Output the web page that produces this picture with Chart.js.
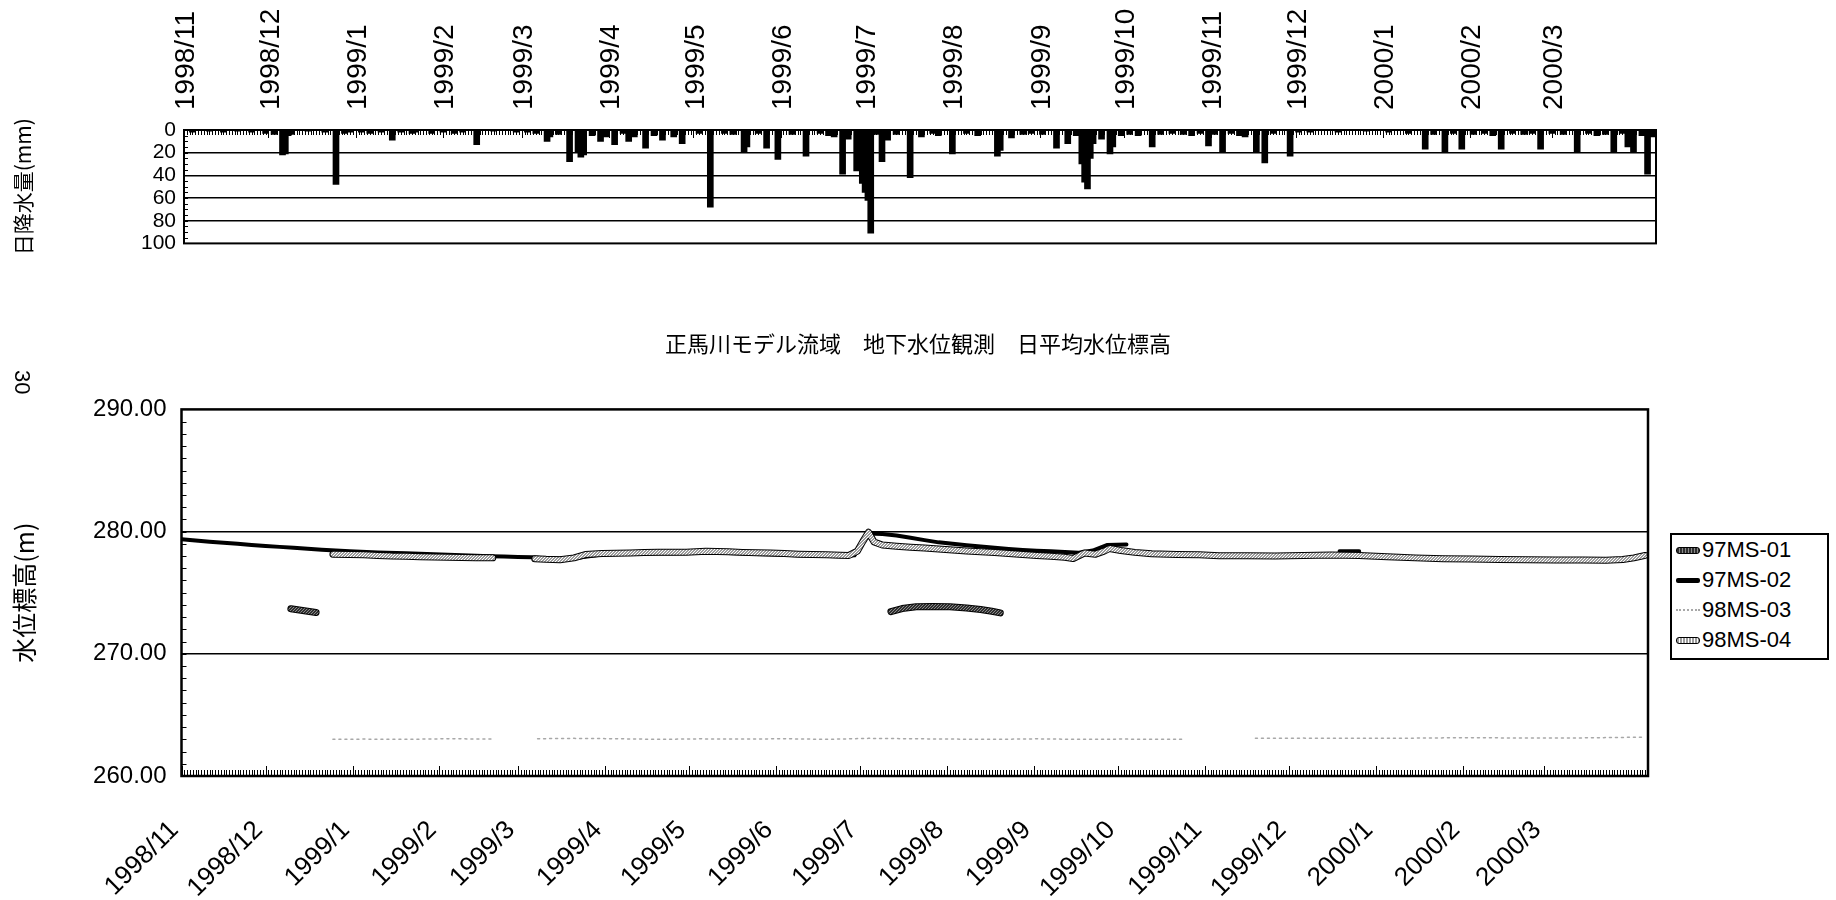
<!DOCTYPE html>
<html lang="ja">
<head>
<meta charset="utf-8">
<title>正馬川モデル流域 地下水位観測 日平均水位標高</title>
<script src="https://cdn.jsdelivr.net/npm/chart.js@4.4.1/dist/chart.umd.min.js"></script>
<style>
  html, body { margin: 0; padding: 0; background: #fff; }
  body { position: relative; width: 1836px; height: 900px; overflow: hidden; font-family: "Liberation Sans", Arial, sans-serif; color: #000; }
  #rainBox  { position: absolute; left: 0; top: 0;     width: 1836px; height: 264px; }
  #levelBox { position: absolute; left: 0; top: 300px; width: 1836px; height: 600px; }
  #pageNo { position: absolute; left: 33px; top: 370px; font-size: 22px; line-height: 22px; transform-origin: 0 0; transform: rotate(90deg); }
  #legend { position: absolute; left: 1670px; top: 533px; width: 159px; height: 127px; border: 2px solid #000; box-sizing: border-box; background: #fff; }
  #legend .row { position: absolute; left: 0; height: 30px; display: flex; align-items: center; font-size: 22px; }
  #legend .swatch { width: 24px; margin: 0 2px 0 4px; box-sizing: border-box; }
</style>
</head>
<body>
<div id="rainBox"><canvas id="rainCanvas" width="1836" height="264"></canvas></div>
<div id="levelBox"><canvas id="levelCanvas" width="1836" height="600"></canvas></div>
<div id="pageNo">30</div>
<div id="legend"></div>
<script>
// ---- time axis: days counted from 1998/11/1 ----
const monthLabels = ['1998/11','1998/12','1999/1','1999/2','1999/3','1999/4','1999/5','1999/6','1999/7',
                     '1999/8','1999/9','1999/10','1999/11','1999/12','2000/1','2000/2','2000/3'];
const TOTAL_DAYS = 523;

// ---- daily rainfall (mm), listed for rain days only ----
const rainDay = [3,9,14,19,24,29,32,35,36,37,38,44,50,54,57,59,63,66,70,74,77,81,82,88,92,96,99,104,110,118,122,125,
  129,130,133,137,140,141,142,145,148,150,153,156,158,160,164,167,170,174,177,183,187,192,195,199,200,204,207,211,
  216,221,226,229,231,234,236,239,241,242,243,244,246,248,250,253,258,262,266,268,273,278,282,289,290,294,298,301,
  305,310,314,317,319,320,321,322,323,326,329,330,333,336,339,344,347,351,355,358,361,364,366,369,372,375,377,381,
  384,387,393,396,400,410,420,428,435,441,444,448,451,454,458,462,465,468,472,476,479,482,486,490,495,499,502,505,
  508,511,513,515,518,520,522];
const rainMm = [2,1,2,1,2,3,4,22,21,5,4,1,2,48,3,2,2,3,2,9,2,3,2,3,2,3,2,13,1,2,2,3,
  10,6,4,28,19,24,22,5,10,6,13,3,10,6,16,5,9,6,12,3,68,3,4,19,15,3,16,26,
  4,23,3,5,6,39,8,36,47,55,62,91,4,28,9,4,42,6,3,5,21,3,5,23,18,7,4,3,
  4,16,12,5,30,46,52,25,12,8,21,15,5,4,5,15,4,3,4,5,3,14,4,20,3,5,6,19,
  29,3,23,2,2,2,1,2,3,17,4,19,3,17,4,3,5,17,3,4,3,17,3,4,19,3,5,4,
  20,3,15,20,5,39,6];

// ---- daily mean groundwater level (m), null = no record ----
const seriesNames = ['97MS-01', '97MS-02', '98MS-03', '98MS-04'];

const ms01Day = [39,42,45,48,150,253,257,262,268,274,280,285,289,292];
const ms01Lvl = [273.68,273.58,273.48,273.38,null,273.45,273.7,273.85,273.88,273.85,273.75,273.62,273.48,273.35];

const ms02Day = [0,5,10,15,20,25,30,35,40,45,50,55,60,70,80,90,100,110,115,120,125,130,140,150,160,175,190,205,220,235,
  240,245,250,255,260,265,270,275,280,285,290,295,300,305,310,315,320,325,330,337,380,413,420];
const ms02Lvl = [279.38,279.27,279.17,279.08,279.0,278.91,278.83,278.75,278.67,278.6,278.52,278.45,278.39,278.3,278.22,
  278.14,278.06,277.99,277.96,277.93,277.9,277.8,277.82,278.12,278.2,278.22,278.28,278.16,278.06,277.98,
  278.06,279.85,279.8,279.68,279.5,279.3,279.12,279.0,278.88,278.78,278.68,278.58,278.5,278.44,278.39,278.33,
  278.27,278.45,278.9,278.95,null,278.4,278.4];

const ms03Day = [54,65,80,95,111,118,127,140,155,170,185,200,215,230,245,260,275,290,305,320,335,357,370,383,400,420,440,460,480,500,522];
const ms03Lvl = [263.0,263.02,263.0,263.05,263.02,null,263.05,263.08,263.05,263.0,263.04,263.02,263.05,263.0,263.08,263.05,
  263.02,263.0,263.04,263.0,263.02,263.0,null,263.08,263.1,263.08,263.1,263.14,263.1,263.12,263.18];

const ms04Day = [54,60,65,70,75,80,85,90,95,100,105,111,118,126,130,135,140,144,150,155,160,165,170,175,180,187,195,200,
  205,210,215,220,225,230,235,238,241,243,245,247,250,255,260,265,270,275,280,285,290,295,300,305,310,315,318,322,
  326,329,331,335,340,346,355,363,370,380,390,400,410,420,430,440,450,460,470,480,490,500,508,514,518,522];
const ms04Lvl = [278.15,278.12,278.1,278.05,278.0,277.98,277.95,277.92,277.9,277.88,277.86,277.85,null,277.78,277.73,
  277.7,277.85,278.12,278.2,278.22,278.25,278.28,278.3,278.3,278.32,278.4,278.35,278.3,278.27,278.25,278.2,278.15,
  278.12,278.1,278.06,278.05,278.4,279.2,279.95,279.15,278.9,278.8,278.72,278.65,278.58,278.5,278.42,278.35,278.28,
  278.2,278.12,278.05,277.98,277.9,277.8,278.25,278.15,278.4,278.62,278.45,278.3,278.18,278.12,278.1,278.03,278.02,
  278.0,278.05,278.08,278.05,277.95,277.85,277.78,277.75,277.72,277.7,277.68,277.68,277.66,277.72,277.85,278.05];

const rainAxisTitle = '日降水量(mm)';
const levelAxisTitle = '水位標高(m)';
const levelTitle = '正馬川モデル流域　地下水位観測　日平均水位標高';

// ---- helpers ----
const START = Date.UTC(1998, 10, 1);
const monthDays = monthLabels.map(s => {
  const [yy, mm] = s.split('/').map(Number);
  return Math.round((Date.UTC(yy, mm - 1, 1) - START) / 86400000);
});
const pts = (days, vals) => days.map((d, i) => ({ x: d, y: vals[i] }));

function stipple(base, speck) {
  const c = document.createElement('canvas');
  c.width = 3; c.height = 3;
  const g = c.getContext('2d');
  g.fillStyle = base; g.fillRect(0, 0, 3, 3);
  g.fillStyle = speck; g.fillRect(0, 0, 1, 1); g.fillRect(2, 1, 1, 1); g.fillRect(1, 2, 1, 1);
  return g.createPattern(c, 'repeat');
}

// plot frame, inside tick marks on both axes
const framePlugin = {
  id: 'frame',
  afterDatasetsDraw(chart, args, o) {
    const { ctx, chartArea: a, scales: { x, y } } = chart;
    ctx.save();
    ctx.strokeStyle = '#000';
    ctx.lineWidth = 1;
    ctx.beginPath();
    for (let v = y.min; v <= y.max + 1e-9; v += o.yMinor) {
      const py = Math.round(y.getPixelForValue(v)) + 0.5;
      ctx.moveTo(a.left, py); ctx.lineTo(a.left + o.yTickLen, py);
    }
    const edge = o.timeEdge === 'top' ? a.top : a.bottom;
    const dir = o.timeEdge === 'top' ? 1 : -1;
    for (let d = 0; d <= TOTAL_DAYS; d++) {
      const px = Math.round(x.getPixelForValue(d)) + 0.5;
      const len = monthDays.includes(d) ? o.monthTickLen : o.dayTickLen;
      ctx.moveTo(px, edge); ctx.lineTo(px, edge + dir * len);
    }
    ctx.stroke();
    ctx.lineWidth = o.frameWidth;
    ctx.strokeRect(a.left, a.top, a.width, a.height);
    ctx.restore();
  }
};

// dark edge under the textured well lines
const outlinePlugin = {
  id: 'outline',
  beforeDatasetDraw(chart, args) {
    const ds = chart.data.datasets[args.index];
    if (!ds.outlineColor) return;
    const { ctx, chartArea: a } = chart;
    ctx.save();
    ctx.beginPath(); ctx.rect(a.left, a.top, a.width, a.height); ctx.clip();
    ctx.strokeStyle = ds.outlineColor;
    ctx.lineWidth = ds.borderWidth + 2;
    ctx.lineJoin = 'round'; ctx.lineCap = 'round';
    ctx.beginPath();
    let pen = false;
    for (const p of args.meta.data) {
      if (p.skip) { pen = false; continue; }
      if (pen) ctx.lineTo(p.x, p.y); else { ctx.moveTo(p.x, p.y); pen = true; }
    }
    ctx.stroke();
    ctx.restore();
  }
};

Chart.defaults.color = '#000';
const numFont = "'Liberation Sans', Arial, sans-serif";
const narrowFont = "'Liberation Sans Narrow', 'Liberation Sans', Arial, sans-serif";
const jpFont = "'Noto Sans CJK JP', sans-serif";
const monthTicks = s => { s.ticks = monthDays.map(v => ({ value: v })); };

// ---- daily rainfall bars ----
new Chart(document.getElementById('rainCanvas'), {
  type: 'bar',
  data: {
    datasets: [{
      label: rainAxisTitle,
      data: pts(rainDay, rainMm),
      backgroundColor: '#000',
      borderWidth: 0,
      barThickness: 6
    }]
  },
  options: {
    responsive: false,
    animation: false,
    layout: { padding: { left: 0, right: 180, top: 0, bottom: 7 } },
    plugins: {
      legend: { display: false },
      tooltip: { enabled: false },
      frame: { yMinor: 5, yTickLen: 4, timeEdge: 'top', dayTickLen: 5, monthTickLen: 8, frameWidth: 2 }
    },
    scales: {
      x: {
        type: 'linear', position: 'top', min: 0, max: TOTAL_DAYS, offset: false,
        grid: { display: false }, border: { display: false },
        afterBuildTicks: monthTicks,
        ticks: {
          autoSkip: false, minRotation: 90, maxRotation: 90, padding: 12, labelOffset: 36,
          font: { family: numFont, size: 28 },
          callback: (v, i) => monthLabels[i]
        },
        afterFit: s => { s.height = 130; }
      },
      y: {
        min: 0, max: 100, reverse: true,
        grid: {
          color: c => (c.tick.value > 0 && c.tick.value < 100) ? '#000' : 'rgba(0,0,0,0)',
          lineWidth: 1.5, drawTicks: false
        },
        border: { display: false },
        ticks: { stepSize: 20, autoSkip: false, padding: 8, font: { family: narrowFont, size: 21 } },
        title: { display: true, text: rainAxisTitle, font: { family: jpFont, size: 21 }, padding: { top: 10, bottom: 0 } },
        afterFit: s => { s.width = 184; }
      }
    }
  },
  plugins: [framePlugin]
});

// ---- groundwater level lines ----
const lineStyles = [
  { borderColor: stipple('#2e2e2e', '#8a8a8a'), borderWidth: 5, outlineColor: '#000', order: 2 },
  { borderColor: '#000', borderWidth: 4, order: 3 },
  { borderColor: '#a8a8a8', borderWidth: 1.5, borderDash: [2, 4], order: 1 },
  { borderColor: stipple('#9c9c9c', '#ffffff'), borderWidth: 5, outlineColor: '#000', order: 0 }
];
const levelData = [pts(ms01Day, ms01Lvl), pts(ms02Day, ms02Lvl), pts(ms03Day, ms03Lvl), pts(ms04Day, ms04Lvl)];

new Chart(document.getElementById('levelCanvas'), {
  type: 'line',
  data: {
    datasets: seriesNames.map((name, i) => Object.assign({
      label: name, data: levelData[i], pointRadius: 0, tension: 0,
      borderCapStyle: 'round', borderJoinStyle: 'round', spanGaps: false
    }, lineStyles[i]))
  },
  options: {
    responsive: false,
    animation: false,
    layout: { padding: 0 },
    plugins: {
      legend: { display: false },
      tooltip: { enabled: false },
      title: {
        display: true, text: levelTitle, color: '#000',
        font: { family: jpFont, size: 22, weight: 'normal' },
        padding: { top: 30, bottom: 53 }
      },
      frame: { yMinor: 1, yTickLen: 5, timeEdge: 'bottom', dayTickLen: 6, monthTickLen: 10, frameWidth: 2.5 }
    },
    scales: {
      x: {
        type: 'linear', min: 0, max: TOTAL_DAYS,
        grid: { display: false }, border: { display: false },
        afterBuildTicks: monthTicks,
        ticks: {
          autoSkip: false, minRotation: 45, maxRotation: 45, padding: 31, labelOffset: -7,
          font: { family: numFont, size: 26 },
          callback: (v, i) => monthLabels[i]
        },
        afterFit: s => { s.height = 124; }
      },
      y: {
        min: 260, max: 290,
        grid: {
          color: c => (c.tick.value > 260 && c.tick.value < 290) ? '#000' : 'rgba(0,0,0,0)',
          lineWidth: 1.5, drawTicks: false
        },
        border: { display: false },
        ticks: { stepSize: 10, padding: 15, font: { family: narrowFont, size: 24 }, callback: v => v.toFixed(2) },
        title: { display: true, text: levelAxisTitle, font: { family: jpFont, size: 25 }, padding: { top: 9, bottom: 0 } },
        afterFit: s => { s.width = 181.5; }
      },
      // empty strip on the right that holds the legend
      side: {
        position: 'right', min: 0, max: 1,
        grid: { display: false }, border: { display: false }, ticks: { display: false },
        afterFit: s => { s.width = 188; }
      }
    }
  },
  plugins: [outlinePlugin, framePlugin]
});

// ---- legend ----
const legendSwatch = [
  'height:7px;border:1px solid #000;border-radius:3px;background:repeating-linear-gradient(90deg,#2e2e2e 0 2px,#8a8a8a 2px 3px);',
  'height:5px;background:#000;border-radius:2px;',
  'height:0;border-top:2px dotted #a8a8a8;',
  'height:7px;border:1px solid #000;border-radius:3px;background:repeating-linear-gradient(90deg,#9c9c9c 0 2px,#ffffff 2px 3px);'
];
const legendEl = document.getElementById('legend');
seriesNames.forEach((name, i) => {
  const row = document.createElement('div');
  row.className = 'row';
  row.style.top = (0 + i * 30) + 'px';
  const sw = document.createElement('span');
  sw.className = 'swatch';
  sw.style.cssText += legendSwatch[i];
  const tx = document.createElement('span');
  tx.textContent = name;
  row.appendChild(sw); row.appendChild(tx);
  legendEl.appendChild(row);
});
</script>
</body>
</html>
